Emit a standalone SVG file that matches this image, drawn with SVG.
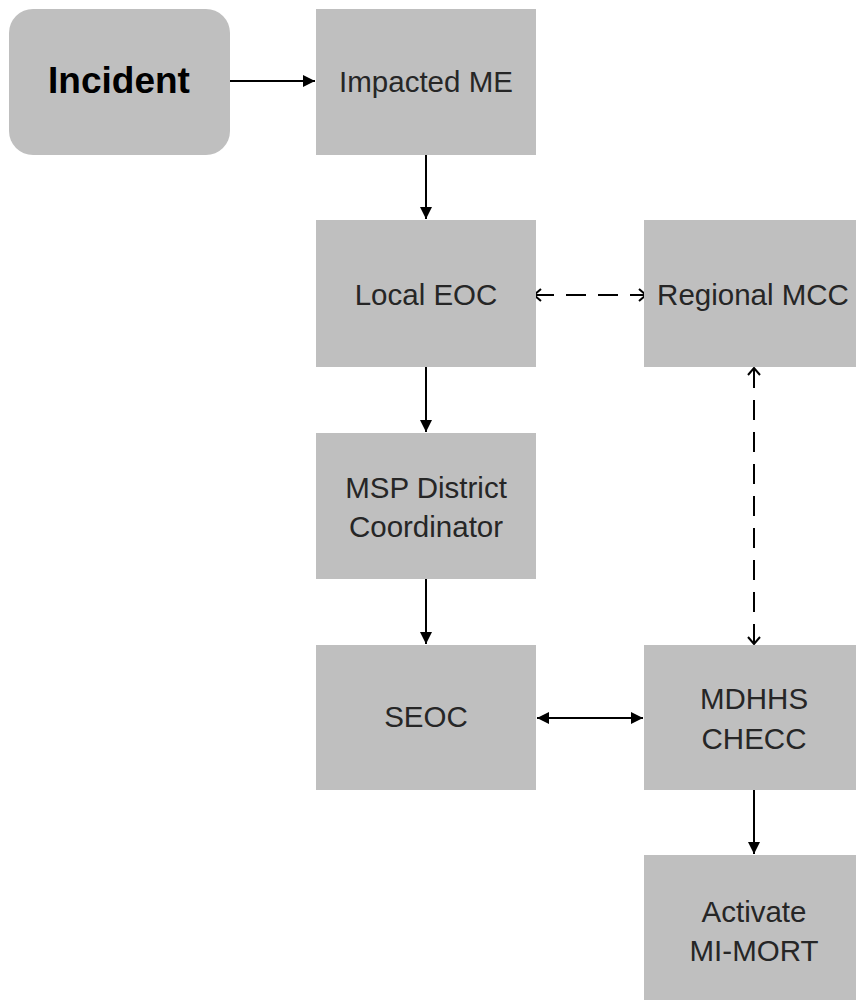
<svg xmlns="http://www.w3.org/2000/svg" width="856" height="1000" viewBox="0 0 856 1000">
<defs>
<style>
.box{fill:#bfbfbf;}
.lbl{font-family:"Liberation Sans",Arial,sans-serif;font-size:29.5px;fill:#262626;text-anchor:middle;dominant-baseline:central;}
.bold{font-weight:bold;font-size:37px;fill:#000;}
.solid{stroke:#000;stroke-width:2;fill:none;}
.dash{stroke:#000;stroke-width:2;fill:none;stroke-dasharray:20 12;}
</style>
<marker id="tri" viewBox="0 0 10 10" refX="10" refY="5" markerWidth="12" markerHeight="12" markerUnits="userSpaceOnUse" orient="auto-start-reverse">
<path d="M0,0 L10,5 L0,10 z" fill="#000"/>
</marker>
<marker id="chev" viewBox="0 0 12 14" refX="11" refY="7" markerWidth="12" markerHeight="14" markerUnits="userSpaceOnUse" orient="auto-start-reverse">
<path d="M4,1 L11,7 L4,13" fill="none" stroke="#000" stroke-width="2"/>
</marker>
</defs>
<rect width="856" height="1000" fill="#fff"/>
<g id="connectors">
<line class="solid" x1="230" y1="81" x2="315" y2="81" marker-end="url(#tri)"/>
<line class="solid" x1="426" y1="155" x2="426" y2="219" marker-end="url(#tri)"/>
<line class="solid" x1="426" y1="367" x2="426" y2="432" marker-end="url(#tri)"/>
<line class="solid" x1="426" y1="579" x2="426" y2="644" marker-end="url(#tri)"/>
<line class="solid" x1="537" y1="718" x2="643" y2="718" marker-start="url(#tri)" marker-end="url(#tri)"/>
<line class="solid" x1="754" y1="790" x2="754" y2="854" marker-end="url(#tri)"/>
<line class="dash" x1="534" y1="295" x2="646" y2="295" marker-start="url(#chev)" marker-end="url(#chev)"/>
<line class="dash" x1="754" y1="368" x2="754" y2="644" marker-start="url(#chev)" marker-end="url(#chev)"/>
</g>
<g id="incident">
<rect class="box" x="9" y="9" width="221" height="146" rx="24" ry="24"/>
<text class="lbl bold" x="119" y="80">Incident</text>
</g>
<g id="impacted-me">
<rect class="box" x="316" y="9" width="220" height="146"/>
<text class="lbl" x="426" y="81" fill="#333">Impacted ME</text>
</g>
<g id="local-eoc">
<rect class="box" x="316" y="220" width="220" height="147"/>
<text class="lbl" x="426" y="294">Local EOC</text>
</g>
<g id="regional-mcc">
<rect class="box" x="644" y="220" width="220" height="147"/>
<text class="lbl" x="753" y="294">Regional MCC</text>
</g>
<g id="msp-district-coordinator">
<rect class="box" x="316" y="433" width="220" height="146"/>
<text class="lbl" x="426" y="487">MSP District</text>
<text class="lbl" x="426" y="526">Coordinator</text>
</g>
<g id="seoc">
<rect class="box" x="316" y="645" width="220" height="145"/>
<text class="lbl" x="426" y="716">SEOC</text>
</g>
<g id="mdhhs-checc">
<rect class="box" x="644" y="645" width="220" height="145"/>
<text class="lbl" x="754" y="698">MDHHS</text>
<text class="lbl" x="754" y="738">CHECC</text>
</g>
<g id="activate-mi-mort">
<rect class="box" x="644" y="855" width="220" height="145"/>
<text class="lbl" x="754" y="911">Activate</text>
<text class="lbl" x="754" y="950">MI-MORT</text>
</g>
</svg>
